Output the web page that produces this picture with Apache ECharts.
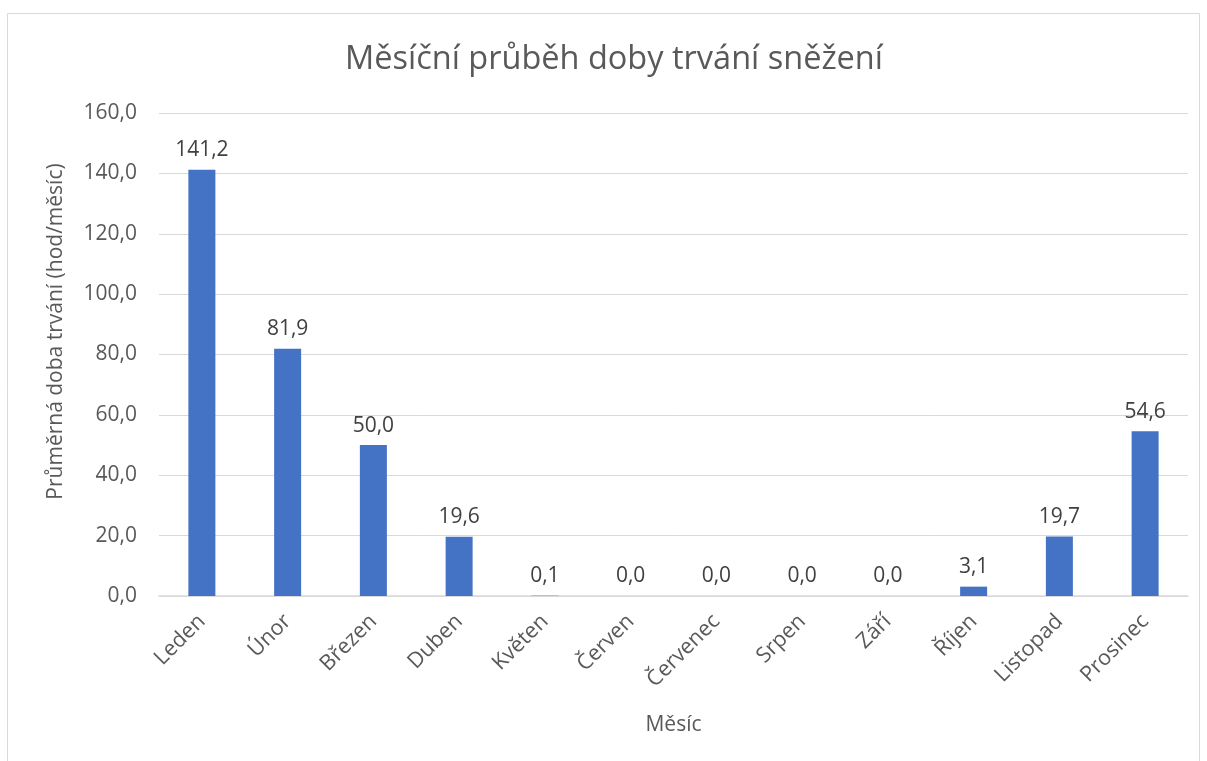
<!DOCTYPE html>
<html><head><meta charset="utf-8">
<script src="https://cdn.jsdelivr.net/npm/echarts@6/dist/echarts.min.js"></script>
<style>html,body{margin:0;padding:0;background:#fff}#c{width:1207px;height:761px}</style>
</head><body><div id="c"></div>
<script>
const months = ['Leden','Únor','Březen','Duben','Květen','Červen','Červenec','Srpen','Září','Říjen','Listopad','Prosinec'];
const snowHours = [141.2, 81.9, 50.0, 19.6, 0.1, 0.0, 0.0, 0.0, 0.0, 3.1, 19.7, 54.6];
const yTicks = [0, 20, 40, 60, 80, 100, 120, 140, 160];
const titleText = 'Měsíční průběh doby trvání sněžení';
const yName = 'Průměrná doba trvání (hod/měsíc)';
const xName = 'Měsíc';

const fmt = v => v.toFixed(1).replace('.', ',');
const font = '"Open Sans", "Noto Sans", sans-serif';
const chart = echarts.init(document.getElementById('c'));
chart.setOption({
  animation: false,
  graphic: [{type:'rect', shape:{x:7.5,y:13.5,width:1192,height:760}, style:{fill:'none', stroke:'#d9d9d9', lineWidth:1}, silent:true}],
  title: {text: titleText, left: 340, top: 38, padding: 5, textStyle:{fontFamily: font, fontSize: 32.5, fontWeight: 'normal', color:'#595959'}},
  grid: {left: 159, right: 19, top: 113, bottom: 165},
  xAxis: {
    type: 'category', data: months,
    name: xName, nameLocation: 'middle', nameGap: 119,
    nameTextStyle: {fontFamily: font, fontSize: 21, color:'#595959'},
    axisLine: {lineStyle:{color:'#d9d9d9', width:1.5}},
    axisTick: {show:false},
    axisLabel: {rotate: 45, fontFamily: font, fontSize: 21.5, color:'#595959', margin: 22}
  },
  yAxis: {
    type: 'value', min: 0, max: 160, interval: 20,
    name: yName, nameLocation: 'middle', nameGap: 92,
    nameTextStyle: {fontFamily: font, fontSize: 21, color:'#595959', padding: [0, 0, 0, 46]},
    axisLabel: {fontFamily: font, fontSize: 21, color:'#595959', margin: 22, formatter: v => yTicks.includes(v) ? fmt(v) : ''},
    splitLine: {lineStyle:{color:'#d9d9d9', width:1}},
    axisLine: {show:false}, axisTick: {show:false}
  },
  series: [{
    type: 'bar', data: snowHours, barWidth: 27,
    itemStyle: {color: '#4472c4'},
    label: {show: true, position: 'top', distance: 9, fontFamily: font, fontSize: 21, color:'#404040', formatter: p => fmt(p.value)}
  }]
});
</script></body></html>
